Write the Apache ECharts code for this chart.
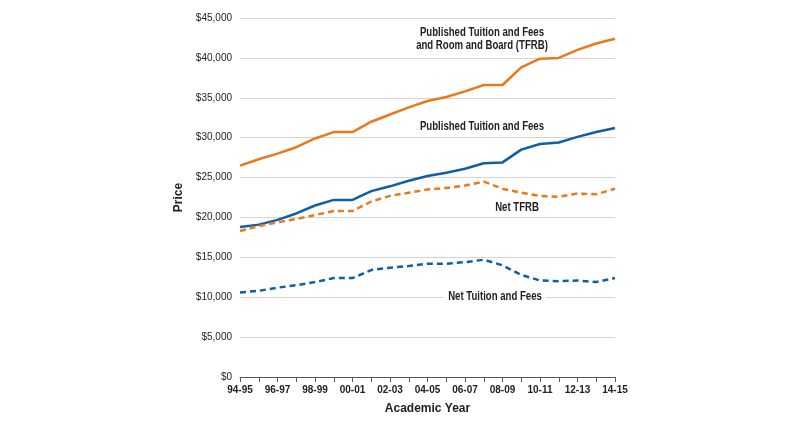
<!DOCTYPE html>
<html><head><meta charset="utf-8">
<script src="https://cdn.jsdelivr.net/npm/echarts@6/dist/echarts.min.js"></script>
<style>html,body{margin:0;padding:0;background:#fff}#c{width:800px;height:432px}</style>
</head><body><div id="c"></div>
<script>
var years = ['94-95','95-96','96-97','97-98','98-99','99-00','00-01','01-02','02-03','03-04','04-05','05-06','06-07','07-08','08-09','09-10','10-11','11-12','12-13','13-14','14-15'];
var tfrb = [26500,27300,28000,28800,29900,30700,30700,32000,32900,33800,34600,35100,35800,36600,36600,38800,39900,40000,41000,41800,42400];
var tuition = [18800,19100,19700,20500,21500,22200,22200,23300,23900,24600,25200,25600,26100,26800,26900,28500,29200,29400,30100,30700,31200];
var netTfrb = [18300,18900,19400,19800,20300,20800,20800,22000,22700,23100,23500,23700,24000,24500,23600,23100,22700,22600,23000,22900,23600];
var netTuition = [10600,10800,11200,11500,11900,12400,12400,13400,13700,13900,14200,14200,14400,14700,14000,12800,12100,12000,12100,11900,12400];

var ORANGE = '#e8791d', BLUE = '#0e5fa3';
var FONT = '"Liberation Sans", sans-serif';

var chart = echarts.init(document.getElementById('c'));
function line(name, data, color, dashed) {
  return { name: name, type: 'line', data: data, symbol: 'none', animation: false,
    lineStyle: { color: color, width: 2.5, type: dashed ? [6, 4] : 'solid' } };
}
function label(x, y, text) {
  return { type: 'text', x: x, y: y, scaleX: 0.8, z: 100,
    style: { text: text, font: 'bold 12px ' + FONT, fill: '#222', align: 'center', verticalAlign: 'middle', backgroundColor: '#fff', padding: [1, 5] } };
}
chart.setOption({
  animation: false,
  grid: { left: 240, right: 185, top: 18, bottom: 55 },
  xAxis: {
    type: 'category', data: years, boundaryGap: false,
    name: 'Academic Year', nameLocation: 'middle', nameGap: 26,
    nameTextStyle: { fontFamily: FONT, fontWeight: 'bold', fontSize: 12, color: '#222' },
    axisLine: { lineStyle: { color: '#555' } },
    axisTick: { interval: 0, length: 5, lineStyle: { color: '#555' } },
    axisLabel: { interval: 1, fontFamily: FONT, fontWeight: 'bold', fontSize: 10, color: '#222', margin: 8 }
  },
  yAxis: {
    type: 'value', min: 0, max: 45000, interval: 5000,
    name: 'Price', nameLocation: 'middle', nameGap: 55,
    nameTextStyle: { fontFamily: FONT, fontWeight: 'bold', fontSize: 12, color: '#222' },
    axisLine: { show: false }, axisTick: { show: false },
    splitLine: { lineStyle: { color: '#d4d4d4' } },
    axisLabel: { fontFamily: FONT, fontSize: 10, color: '#222', margin: 8,
      formatter: function (v) { return '$' + v.toLocaleString('en-US'); } }
  },
  graphic: [
    label(482, 33, 'Published Tuition and Fees'),
    label(482, 46, 'and Room and Board (TFRB)'),
    label(482, 127, 'Published Tuition and Fees'),
    label(517, 208, 'Net TFRB'),
    label(495, 297, 'Net Tuition and Fees')
  ],
  series: [
    line('TFRB', tfrb, ORANGE, false),
    line('Tuition', tuition, BLUE, false),
    line('Net TFRB', netTfrb, ORANGE, true),
    line('Net Tuition', netTuition, BLUE, true)
  ]
});
</script></body></html>
